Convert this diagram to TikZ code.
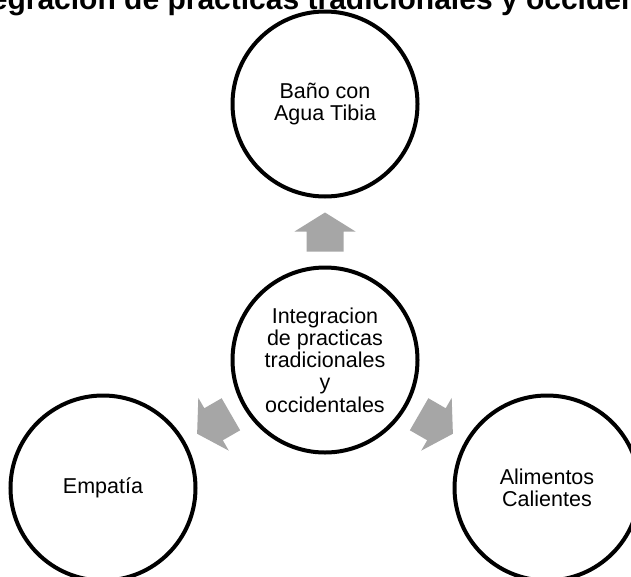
\documentclass[tikz,border=0pt]{standalone}
\usepackage{fontspec}
\setmainfont{Liberation Sans}
\usepackage{xcolor}
\usetikzlibrary{calc}
\definecolor{arrowgray}{HTML}{A6A6A6}
\definecolor{ringblack}{HTML}{000000}

\begin{document}
\begin{tikzpicture}[x=1pt,y=1pt,
  bubble/.style={circle,draw=ringblack,line width=4pt,minimum size=185pt,inner sep=0pt,align=center,font=\fontsize{21.5}{22.2}\selectfont},
  headline/.style={anchor=base,font=\fontsize{30}{36}\selectfont\bfseries}]
\useasboundingbox (0,-576) rectangle (631,0);
\clip (0,-576) rectangle (631,0);
\fill[white] (0,-576) rectangle (631,0);
\node[headline] (title) at (331,-9) {Integracion de practicas tradicionales y occidentales};
\node[bubble] (hub) at (325,-360) {Integracion\\de practicas\\tradicionales\\y\\occidentales};
\node[bubble] (bath) at (325,-104) {Baño con\\Agua Tibia};
\node[bubble] (empathy) at (103,-488) {Empatía};
\node[bubble] (food) at (547,-488) {Alimentos\\Calientes};
\coordinate (upmid) at ($(hub)!0.5!(bath)$);
\coordinate (leftmid) at ($(hub)!0.5!(empathy)$);
\coordinate (rightmid) at ($(hub)!0.5!(food)$);
\fill[arrowgray,shift={(upmid)},rotate=90] (19.5,0) -- (0.5,30.5) -- (0.5,18.5) -- (-19.5,18.5) -- (-19.5,-18.5) -- (0.5,-18.5) -- (0.5,-30.5) -- cycle;
\fill[arrowgray,shift={(leftmid)},rotate=210] (19.5,0) -- (0.5,30.5) -- (0.5,18.5) -- (-19.5,18.5) -- (-19.5,-18.5) -- (0.5,-18.5) -- (0.5,-30.5) -- cycle;
\fill[arrowgray,shift={(rightmid)},rotate=330] (19.5,0) -- (0.5,30.5) -- (0.5,18.5) -- (-19.5,18.5) -- (-19.5,-18.5) -- (0.5,-18.5) -- (0.5,-30.5) -- cycle;
\end{tikzpicture}
\end{document}
